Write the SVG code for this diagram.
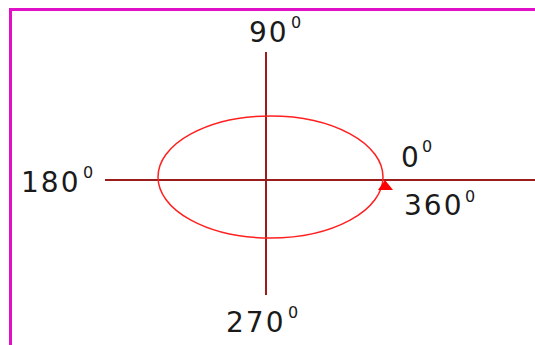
<svg xmlns="http://www.w3.org/2000/svg" width="535" height="345" viewBox="0 0 535 345">
<style>
.lbl{font-family:"DejaVu Sans",Verdana,sans-serif;font-size:28px;letter-spacing:2px;fill:#1a1a1a}
.sup{font-family:"DejaVu Sans",Verdana,sans-serif;font-size:16px;fill:#1a1a1a}
.axis{stroke:#9b1c1c;stroke-width:2;fill:none}
</style>
<rect width="535" height="345" fill="#fff"/>
<g id="frame">
<path d="M10.5 345 V9.5 H535" fill="none" stroke="#e010c8" stroke-width="3"/>
</g>
<g id="connectors">
<line class="axis" x1="266" y1="52" x2="266" y2="295"/>
<line class="axis" x1="105" y1="180" x2="535" y2="180"/>
<ellipse cx="270.5" cy="177" rx="112.5" ry="61" fill="none" stroke="#ff2020" stroke-width="1.5"/>
<polygon points="385,180 378,190 393,190" fill="#ff0000"/>
</g>
<g id="n90"><text class="lbl" x="249" y="42">90</text><text class="sup" x="291" y="28">0</text></g>
<g id="n270"><text class="lbl" x="226" y="332">270</text><text class="sup" x="288" y="318">0</text></g>
<g id="n180"><text class="lbl" x="21" y="192">180</text><text class="sup" x="83" y="178">0</text></g>
<g id="n0"><text class="lbl" x="401" y="167">0</text><text class="sup" x="422" y="152">0</text></g>
<g id="n360"><text class="lbl" x="404" y="215">360</text><text class="sup" x="465" y="202">0</text></g>
</svg>
